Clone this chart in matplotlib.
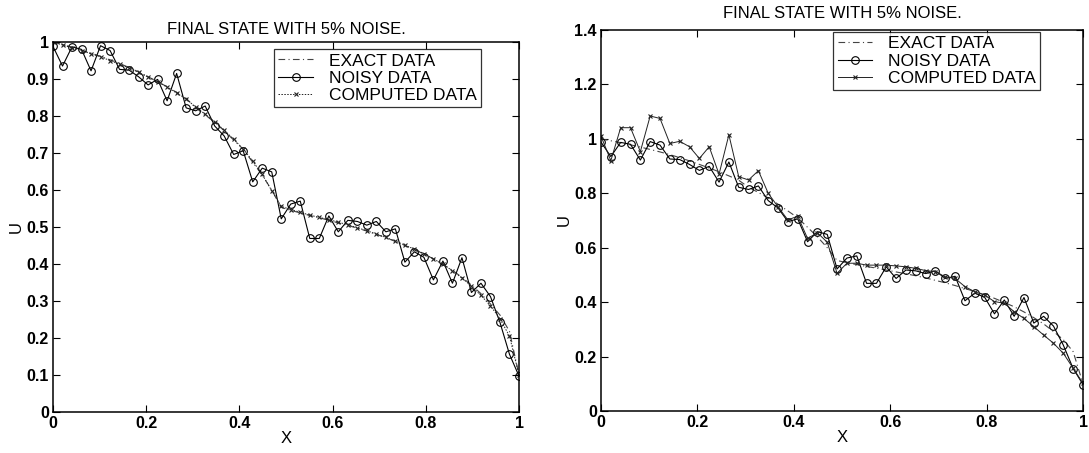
import matplotlib
matplotlib.use("Agg")
import matplotlib.pyplot as plt
import numpy as np

plt.rcParams['font.family'] = ['Liberation Sans', 'DejaVu Sans']

# grid of 50 nodes on [0, 1]
x = np.linspace(0.0, 1.0, 50)

u_exact = [1.000, 0.993, 0.986, 0.978, 0.970, 0.961, 0.952, 0.942, 0.931, 0.919,
           0.906, 0.893, 0.879, 0.864, 0.848, 0.822, 0.803, 0.783, 0.760, 0.735,
           0.710, 0.675, 0.640, 0.600, 0.553, 0.545, 0.538, 0.531, 0.525, 0.518,
           0.511, 0.504, 0.497, 0.489, 0.480, 0.471, 0.461, 0.450, 0.439, 0.427,
           0.414, 0.399, 0.383, 0.364, 0.343, 0.320, 0.292, 0.262, 0.218, 0.100]

u_noisy = [0.988, 0.935, 0.987, 0.980, 0.922, 0.990, 0.977, 0.926, 0.924, 0.906,
           0.884, 0.899, 0.841, 0.915, 0.822, 0.814, 0.827, 0.773, 0.746, 0.696,
           0.706, 0.622, 0.659, 0.649, 0.522, 0.562, 0.570, 0.469, 0.469, 0.530,
           0.487, 0.518, 0.515, 0.505, 0.515, 0.487, 0.495, 0.405, 0.433, 0.418,
           0.357, 0.408, 0.348, 0.417, 0.323, 0.348, 0.312, 0.242, 0.156, 0.097]

# reconstruction with the first regularisation
u_comp_a = [1.000, 0.992, 0.984, 0.977, 0.968, 0.960, 0.950, 0.940, 0.930, 0.918,
            0.905, 0.892, 0.878, 0.862, 0.846, 0.824, 0.805, 0.784, 0.762, 0.737,
            0.711, 0.678, 0.642, 0.598, 0.556, 0.547, 0.540, 0.532, 0.526, 0.520,
            0.513, 0.506, 0.498, 0.490, 0.481, 0.472, 0.462, 0.451, 0.440, 0.428,
            0.414, 0.399, 0.382, 0.362, 0.340, 0.315, 0.287, 0.252, 0.205, 0.100]

# reconstruction with the second regularisation
u_comp_b = [1.010, 0.920, 1.041, 1.041, 0.953, 1.084, 1.075, 0.983, 0.991, 0.971,
            0.928, 0.971, 0.870, 1.015, 0.861, 0.849, 0.883, 0.800, 0.750, 0.702,
            0.716, 0.634, 0.655, 0.620, 0.506, 0.543, 0.543, 0.536, 0.536, 0.536,
            0.533, 0.530, 0.524, 0.516, 0.512, 0.493, 0.487, 0.457, 0.438, 0.426,
            0.402, 0.396, 0.365, 0.340, 0.310, 0.279, 0.249, 0.212, 0.157, 0.102]

title = 'FINAL STATE WITH 5% NOISE.'
labels = ['EXACT DATA', 'NOISY DATA', 'COMPUTED DATA']

fig = plt.figure(figsize=(10.89, 4.53), dpi=100)
ax1 = fig.add_axes([53 / 1089, 41 / 453, 466 / 1089, 370 / 453])
ax2 = fig.add_axes([601 / 1089, 42 / 453, 482 / 1089, 381 / 453])


def fmt(v, pos):
    return '0' if abs(v) < 1e-9 else f'{v:.1f}'.rstrip('0').rstrip('.')


def draw_panel(ax, u_comp, comp_ls, ymax, ystep, title_pad, legend_anchor):
    ax.plot(x, u_exact, color='#444444', lw=0.8, ls=(0, (6, 3, 1, 3)),
            label=labels[0])
    ax.plot(x, u_noisy, color='black', lw=0.8, marker='o', ms=5.5,
            mfc='none', mec='black', mew=0.8, label=labels[1])
    ax.plot(x, u_comp, color='#222222', lw=0.7, ls=comp_ls,
            marker='x', ms=3.5, mew=0.8, label=labels[2])
    ax.set_xlim(0, 1)
    ax.set_ylim(0, ymax)
    ax.set_xticks(np.arange(0, 1.01, 0.2))
    ax.set_yticks(np.arange(0, ymax + 1e-9, ystep))
    ax.xaxis.set_major_formatter(plt.FuncFormatter(fmt))
    ax.yaxis.set_major_formatter(plt.FuncFormatter(fmt))
    ax.tick_params(direction='in', top=True, right=True, length=5, width=0.8,
                   labelsize=11.5, pad=3)
    for lab in ax.get_xticklabels() + ax.get_yticklabels():
        lab.set_fontweight('bold')
    for s in ax.spines.values():
        s.set_linewidth(1.1)
    ax.set_xlabel('X', fontsize=12, labelpad=0)
    ax.set_ylabel('U', fontsize=12, labelpad=2)
    ax.set_title(title, fontsize=12, pad=title_pad)
    leg = ax.legend(loc='upper right', bbox_to_anchor=legend_anchor,
                    fontsize=12.5, frameon=True, fancybox=False,
                    edgecolor='black', handlelength=2.0, handletextpad=0.9,
                    borderpad=0.25, labelspacing=0.12, borderaxespad=0)
    leg.get_frame().set_linewidth(0.9)


draw_panel(ax1, u_comp_a, (0, (1.5, 1.5)), 1.0, 0.1, 6, (0.918, 0.981))
draw_panel(ax2, u_comp_b, '-', 1.4, 0.2, 9, (0.911, 0.995))

fig.savefig('out.png', dpi=100)
